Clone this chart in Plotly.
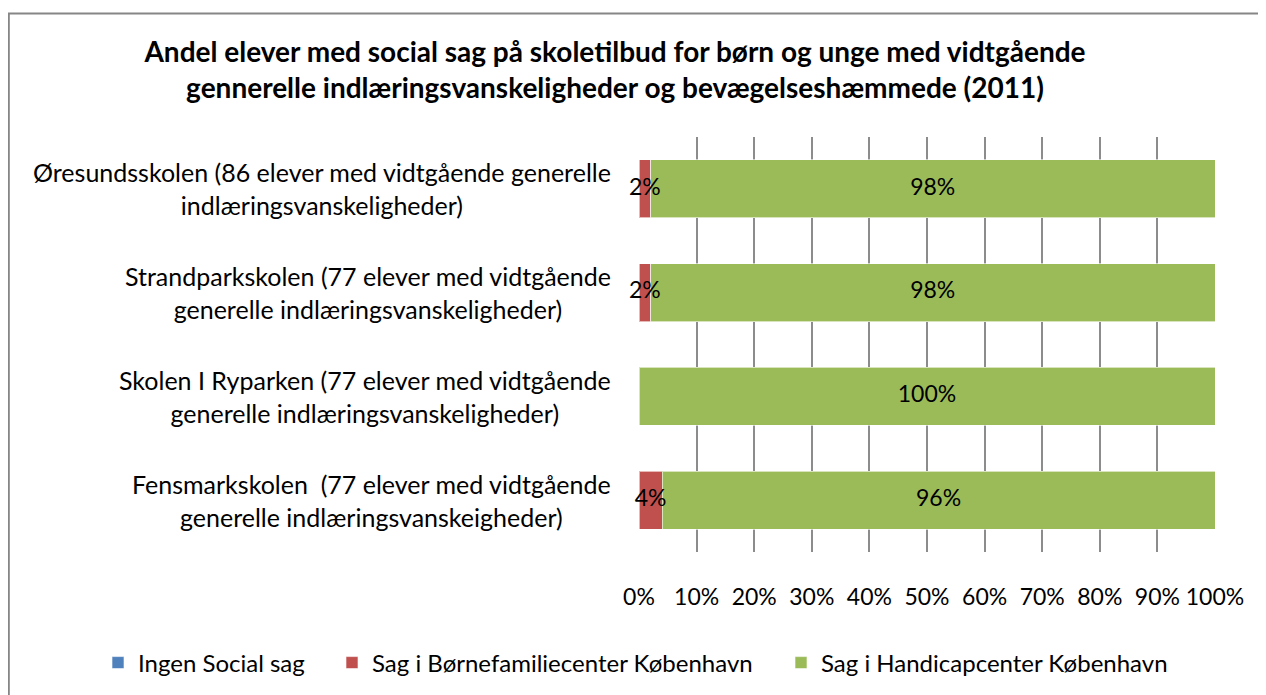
import plotly.graph_objects as go

categories = [
    "Fensmarkskolen  (77 elever med vidtgående<br>generelle indlæringsvanskeigheder)",
    "Skolen I Ryparken (77 elever med vidtgående<br>generelle indlæringsvanskeligheder)",
    "Strandparkskolen (77 elever med vidtgående<br>generelle indlæringsvanskeligheder)",
    "Øresundsskolen (86 elever med vidtgående generelle<br>indlæringsvanskeligheder)",
]
series_names = ["Ingen Social sag", "Sag i Børnefamiliecenter København", "Sag i Handicapcenter København"]
ingen = [0, 0, 0, 0]
boernefamilie = [4, 0, 2, 2]
handicap = [96, 100, 98, 98]
colors = ["#4F81BD", "#C0504D", "#9BBB59"]
x_ticks = [0, 10, 20, 30, 40, 50, 60, 70, 80, 90, 100]

FONT = "Lato, Carlito, Calibri, sans-serif"

# page body adds an 8px offset; figure coordinates below account for it
W, H = 1266, 695
l, t, pw, ph = 631, 129, 576, 415
r, b = W - l - pw, H - t - ph

def px_x(v):
    return (v - l) / pw

def px_y(v):
    return (t + ph - v) / ph

legend_ids = ["legend", "legend2", "legend3"]
legend_x = [90, 324, 773]

fig = go.Figure()
base = [0] * len(categories)
for name, vals, col, lg in zip(series_names, [ingen, boernefamilie, handicap], colors, legend_ids):
    fig.add_trace(go.Bar(
        y=categories, x=vals, name=name, orientation="h", legend=lg,
        marker=dict(color=col, line=dict(color="rgba(255,255,255,0.6)", width=1)),
        hoverinfo="x+name",
    ))
    # data labels drawn on top of all bars, centred on each segment
    mids = [b0 + v / 2 for b0, v in zip(base, vals)]
    fig.add_trace(go.Scatter(
        y=categories, x=mids, mode="text",
        text=[f"{v}%" if v > 0 else "" for v in vals],
        textposition="middle center", cliponaxis=False,
        textfont=dict(family=FONT, size=23, color="black"),
        showlegend=False, hoverinfo="skip",
    ))
    base = [b0 + v for b0, v in zip(base, vals)]

annotations = []
for c in categories:
    annotations.append(dict(
        x=0, xref="paper", y=c, yref="y", xanchor="right", yanchor="middle",
        xshift=-26, text=c, align="center", showarrow=False,
        font=dict(family=FONT, size=25, color="black"),
    ))

legend_common = dict(
    orientation="h", xanchor="left", yref="paper", y=px_y(655), yanchor="middle",
    font=dict(family=FONT, size=24, color="black"), itemwidth=30,
    bgcolor="rgba(0,0,0,0)",
)

fig.update_layout(
    width=W, height=H,
    barmode="stack", bargap=0.44,
    margin=dict(l=l, r=r, t=t, b=b, autoexpand=False),
    plot_bgcolor="white", paper_bgcolor="white",
    font=dict(family=FONT, size=23, color="black"),
    title=dict(
        text="<b>Andel elever med social sag på skoletilbud for børn og unge med vidtgående</b><br><b>gennerelle indlæringsvanskeligheder og bevægelseshæmmede (2011)</b>",
        x=607 / W, xanchor="center", xref="container",
        y=1 - 54 / H, yanchor="middle", yref="container",
        font=dict(family=FONT, size=28, color="black"),
    ),
    xaxis=dict(
        range=[0, 100], tickvals=x_ticks, ticktext=[f"{v}%" for v in x_ticks],
        showgrid=True, gridcolor="#8C8C8C", gridwidth=1.5,
        zeroline=False, showline=False,
        ticks="", ticklabelstandoff=29,
        tickfont=dict(family=FONT, size=23, color="black"),
        fixedrange=True,
    ),
    yaxis=dict(
        showticklabels=False, showgrid=False, zeroline=False,
        showline=False, ticks="", categoryorder="array", categoryarray=categories,
    ),
    legend=dict(x=px_x(legend_x[0]), **legend_common),
    legend2=dict(x=px_x(legend_x[1]), **legend_common),
    legend3=dict(x=px_x(legend_x[2]), **legend_common),
    annotations=annotations,
    showlegend=True,
)

fig.add_shape(type="rect", xref="paper", yref="paper",
              x0=px_x(0.8), x1=px_x(1275), y0=px_y(705), y1=px_y(5.5),
              line=dict(color="#868686", width=2), fillcolor="rgba(0,0,0,0)", layer="below")

fig.write_html("out.html")
